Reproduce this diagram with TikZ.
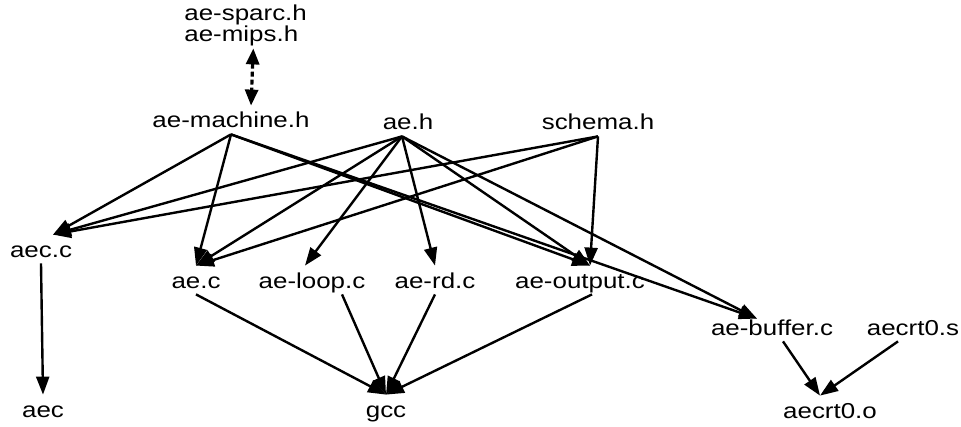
\documentclass[tikz,border=0pt]{standalone}
\usepackage{fontspec}
\setmainfont{Liberation Sans}[FakeStretch=1.2]
\usetikzlibrary{arrows.meta}
\begin{document}
\begin{tikzpicture}[x=0.5pt,y=-0.5pt,
    file/.style={anchor=base,font=\fontsize{10.8}{13}\selectfont,inner xsep=1pt,inner ysep=3pt,text height=8pt,text depth=0pt},
    dep/.style={-{Triangle[length=9pt,width=6.5pt]},line width=1.2pt},
    alt/.style={{Triangle[length=8pt,width=6.5pt]}-{Triangle[length=8pt,width=6.5pt]},line width=1.6pt,dash pattern=on 2.5pt off 1.5pt}]
        \useasboundingbox (0,0) rectangle (961,427);

        \node [file,anchor=base west] (sparc) at (182,21) {ae-sparc.h};
        \node [file,anchor=base west] (mips) at (182,42) {ae-mips.h};
        \node [file] (machine) at (231,128) {ae-machine.h};
        \node [file] (aeh) at (408,130) {ae.h};
        \node [file] (schema) at (598,130) {schema.h};

        \node [file] (aecc) at (41,257) {aec.c};
        \node [file] (aedotc) at (196,288) {ae.c};
        \node [file] (aeloop) at (312,288) {ae-loop.c};
        \node [file] (aerd) at (435,288) {ae-rd.c};
        \node [file] (aeoutput) at (580,288) {ae-output.c};
        \node [file] (aebuffer) at (772,335) {ae-buffer.c};
        \node [file] (crts) at (913,335) {aecrt0.s};

        \node [file] (aec) at (43,417) {aec};
        \node [file] (gcc) at (386,417) {gcc};
        \node [file] (crto) at (830,418) {aecrt0.o};

        \draw [alt] ([xshift=6pt]mips.south) -- ([xshift=10pt]machine.north);

        \draw [dep] (machine.south) -- ([xshift=6pt]aecc.north);
        \draw [dep] (machine.south) -- (aedotc.north);
        \draw [dep] (machine.south) -- ([xshift=5pt]aeoutput.north);
        \draw [dep] (machine.south) -- ([xshift=-7.5pt,yshift=-3pt]aebuffer.north);

        \draw [dep] ([xshift=-3pt]aeh.south) -- ([xshift=6pt]aecc.north);
        \draw [dep] ([xshift=-3pt]aeh.south) -- (aedotc.north);
        \draw [dep] ([xshift=-3pt]aeh.south) -- ([xshift=-3.5pt]aeloop.north);
        \draw [dep] ([xshift=-3pt]aeh.south) -- (aerd.north);
        \draw [dep] ([xshift=-3pt]aeh.south) -- ([xshift=5pt]aeoutput.north);
        \draw [dep] ([xshift=-3pt]aeh.south) -- ([xshift=-7.5pt,yshift=-3pt]aebuffer.north);

        \draw [dep] (schema.south) -- ([xshift=6pt]aecc.north);
        \draw [dep] (schema.south) -- (aedotc.north);
        \draw [dep] (schema.south) -- ([xshift=5pt]aeoutput.north);

        \draw [dep] (aecc.south) -- (aec.north);
        \draw [dep] (aedotc.south) -- (gcc.north);
        \draw [dep] ([xshift=15pt]aeloop.south) -- (gcc.north);
        \draw [dep] (aerd.south) -- (gcc.north);
        \draw [dep] ([xshift=6pt]aeoutput.south) -- (gcc.north);
        \draw [dep] ([xshift=5.5pt]aebuffer.south) -- ([xshift=-5pt]crto.north);
        \draw [dep] ([xshift=-7.5pt]crts.south) -- ([xshift=-5pt]crto.north);
      \end{tikzpicture}
\end{document}
